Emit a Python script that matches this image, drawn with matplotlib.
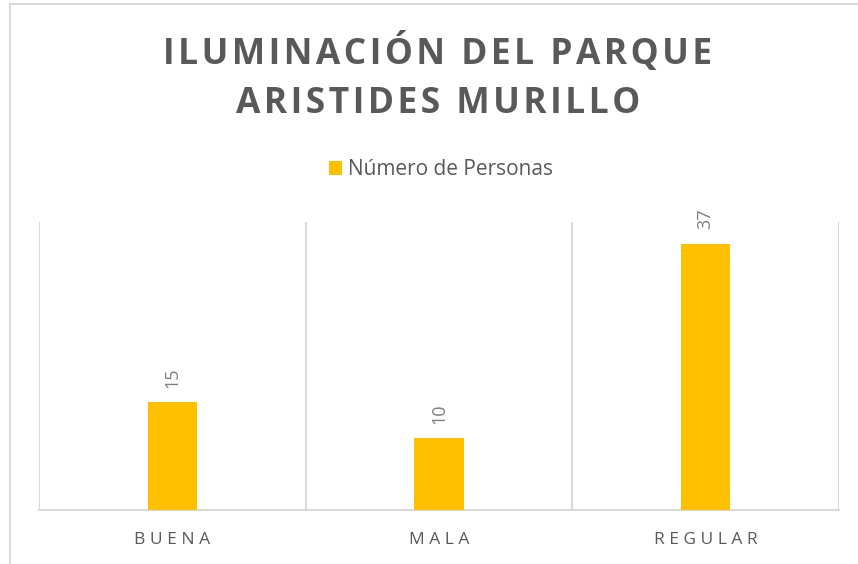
import matplotlib
matplotlib.use("Agg")
import matplotlib.pyplot as plt

# Data
categorias = ["BUENA", "MALA", "REGULAR"]
personas = [15, 10, 37]
serie = "Número de Personas"
titulo = ["ILUMINACIÓN DEL PARQUE", "ARISTIDES MURILLO"]

color_barra = "#FFC000"
gris = "#595959"
gris_linea = "#D9D9D9"

plt.rcParams['font.family'] = ['Open Sans', 'DejaVu Sans']

fig = plt.figure(figsize=(8.58, 5.64), dpi=100)
ax = fig.add_axes([39 / 858, 1 - 510 / 564, (839 - 39) / 858, (510 - 222) / 564])

x = range(len(categorias))
bars = ax.bar(x, personas, width=0.185, color=color_barra, label=serie, zorder=3)

for b, v in zip(bars, personas):
    ax.text(b.get_x() + b.get_width() / 2, v + 2.0, str(v), rotation=90,
            ha="center", va="bottom", fontsize=13, color="#7F7F7F")

ax.set_xlim(-0.5, len(categorias) - 0.5)
ax.set_ylim(0, 40)
ax.set_yticks([])
ax.set_xticks(list(x))
ax.set_xticklabels([" ".join(c) for c in categorias], fontsize=12.5, color=gris)
ax.tick_params(axis="x", length=0, pad=16)

# vertical gridlines between categories
for g in [-0.5, 0.5, 1.5, 2.5]:
    ax.axvline(g, color=gris_linea, lw=1.5, zorder=1)

for s in ["top", "right", "left"]:
    ax.spines[s].set_visible(False)
ax.spines["bottom"].set_color(gris_linea)
ax.spines["bottom"].set_linewidth(1.5)

# title (letter spaced)
sp = "\u200a"
fig.text(438 / 858, 1 - 53 / 564, sp.join(titulo[0]), ha="center", va="center",
         fontsize=25.5, fontweight="bold", color=gris)
fig.text(438 / 858, 1 - 104 / 564, sp.join(titulo[1]), ha="center", va="center",
         fontsize=25.5, fontweight="bold", color=gris)

# legend
fig.legend(handles=[bars], labels=[serie], loc="center", bbox_to_anchor=(441 / 858, 1 - 170 / 564),
           frameon=False, fontsize=15, handlelength=0.65, handleheight=0.65, handletextpad=0.3,
           labelcolor=gris)

# chart border (cropped)
fig.add_artist(plt.Line2D([9.5 / 858, 9.5 / 858], [0, 1 - 3.5 / 564], color=gris_linea, lw=1.5))
fig.add_artist(plt.Line2D([9.5 / 858, 1], [1 - 3.5 / 564, 1 - 3.5 / 564], color=gris_linea, lw=1.5))

fig.savefig("out.png", dpi=100)
